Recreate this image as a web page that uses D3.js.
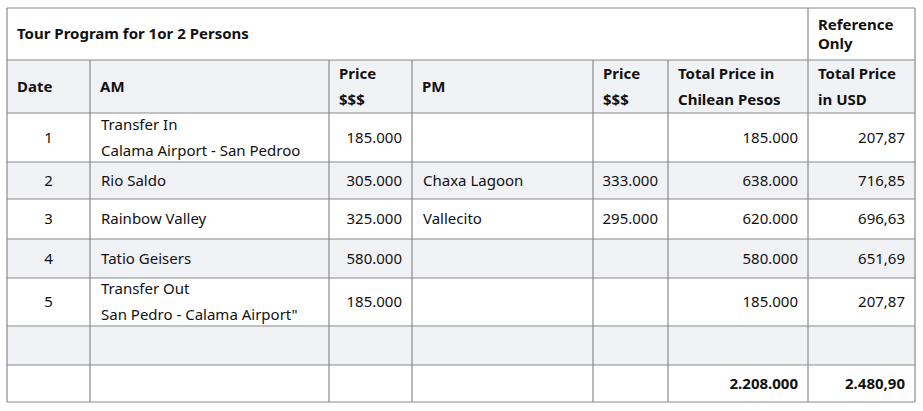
<!DOCTYPE html>
<html><head><meta charset="utf-8">
<script src="https://cdn.jsdelivr.net/npm/d3@7"></script>
<style>body{margin:0;background:#fff}text{font-family:"Noto Sans",sans-serif;font-size:15px;fill:#111}</style>
</head><body><svg id="tbl" width="923" height="411"></svg>
<script>
// table data
let title = "Tour Program for 1or 2 Persons";
let refNote = ["Reference", "Only"];
let headers = [["Date"], ["AM"], ["Price", "$$$"], ["PM"], ["Price", "$$$"], ["Total Price in", "Chilean Pesos"], ["Total Price", "in USD"]];
let dates = ["1", "2", "3", "4", "5", "", ""];
let amActs = [["Transfer In", "Calama Airport - San Pedroo"], ["Rio Saldo"], ["Rainbow Valley"], ["Tatio Geisers"], ["Transfer Out", "San Pedro - Calama Airport\""], [""], [""]];
let amPrices = ["185.000", "305.000", "325.000", "580.000", "185.000", "", ""];
let pmActs = ["", "Chaxa Lagoon", "Vallecito", "", "", "", ""];
let pmPrices = ["", "333.000", "295.000", "", "", "", ""];
let totalCLP = ["185.000", "638.000", "620.000", "580.000", "185.000", "", "2.208.000"];
let totalUSD = ["207,87", "716,85", "696,63", "651,69", "207,87", "", "2.480,90"];

let colEdges = [7, 90, 329, 412, 593, 668, 808, 915];
let rowEdges = [8, 60, 113, 162, 199, 239, 278, 326, 365, 402];
let align = ["middle", "start", "end", "start", "end", "end", "end"];

let svg = d3.select("#tbl");

// row backgrounds
svg.selectAll("rect.bg")
    .data(d3.range(rowEdges.length - 1))
    .enter().append("rect")
    .attr("x", colEdges[0]).attr("y", d => rowEdges[d])
    .attr("width", colEdges[7] - colEdges[0])
    .attr("height", d => rowEdges[d + 1] - rowEdges[d])
    .attr("fill", d => (d === 1 || d === 3 || d === 5 || d === 7) ? "#f1f2f6" : "#fff");

function cellText(lines, c, r, bold) {
    let x0 = colEdges[c], x1 = colEdges[c + 1];
    let cy = (rowEdges[r] + rowEdges[r + 1]) / 2;
    let a = align[c];
    let x = a === "middle" ? (x0 + x1) / 2 : a === "start" ? x0 + 11 : x1 - 10;
    let lh = 26;
    lines.forEach(function (t, i) {
        svg.append("text")
            .attr("x", x)
            .attr("y", cy + (i - (lines.length - 1) / 2) * lh)
            .attr("dy", "0.35em")
            .attr("text-anchor", a)
            .attr("font-weight", bold ? "bold" : "normal")
            .text(t);
    });
}

// title row
svg.append("text").attr("x", 17).attr("y", 34).attr("dy", "0.35em")
    .attr("font-weight", "bold").text(title);
refNote.forEach(function (t, i) {
    svg.append("text").attr("x", 818).attr("y", 25 + i * 19).attr("dy", "0.35em")
        .attr("font-weight", "bold").text(t);
});

// headers
headers.forEach(function (h, c) {
    let x0 = colEdges[c];
    let cy = (rowEdges[1] + rowEdges[2]) / 2;
    h.forEach(function (t, i) {
        svg.append("text").attr("x", x0 + 10)
            .attr("y", cy + (i - (h.length - 1) / 2) * 26)
            .attr("dy", "0.35em").attr("font-weight", "bold").text(t);
    });
});

// body rows
dates.forEach(function (d, i) {
    let r = i + 2;
    let bold = i === 6;
    cellText([d], 0, r, bold);
    cellText(amActs[i], 1, r, bold);
    cellText([amPrices[i]], 2, r, bold);
    cellText([pmActs[i]], 3, r, bold);
    cellText([pmPrices[i]], 4, r, bold);
    cellText([totalCLP[i]], 5, r, bold);
    cellText([totalUSD[i]], 6, r, bold);
});

// grid lines
let stroke = "#8a8a8a";
rowEdges.forEach(function (y) {
    svg.append("line").attr("x1", colEdges[0]).attr("x2", colEdges[7])
        .attr("y1", y).attr("y2", y).attr("stroke", stroke).attr("stroke-width", 1.2);
});
colEdges.forEach(function (x, i) {
    // inner verticals start below title, except the reference column divider
    let yStart = (i === 0 || i === 7 || i === 6) ? rowEdges[0] : rowEdges[1];
    svg.append("line").attr("x1", x).attr("x2", x)
        .attr("y1", yStart).attr("y2", rowEdges[9]).attr("stroke", stroke).attr("stroke-width", 1.2);
});
</script></body></html>
